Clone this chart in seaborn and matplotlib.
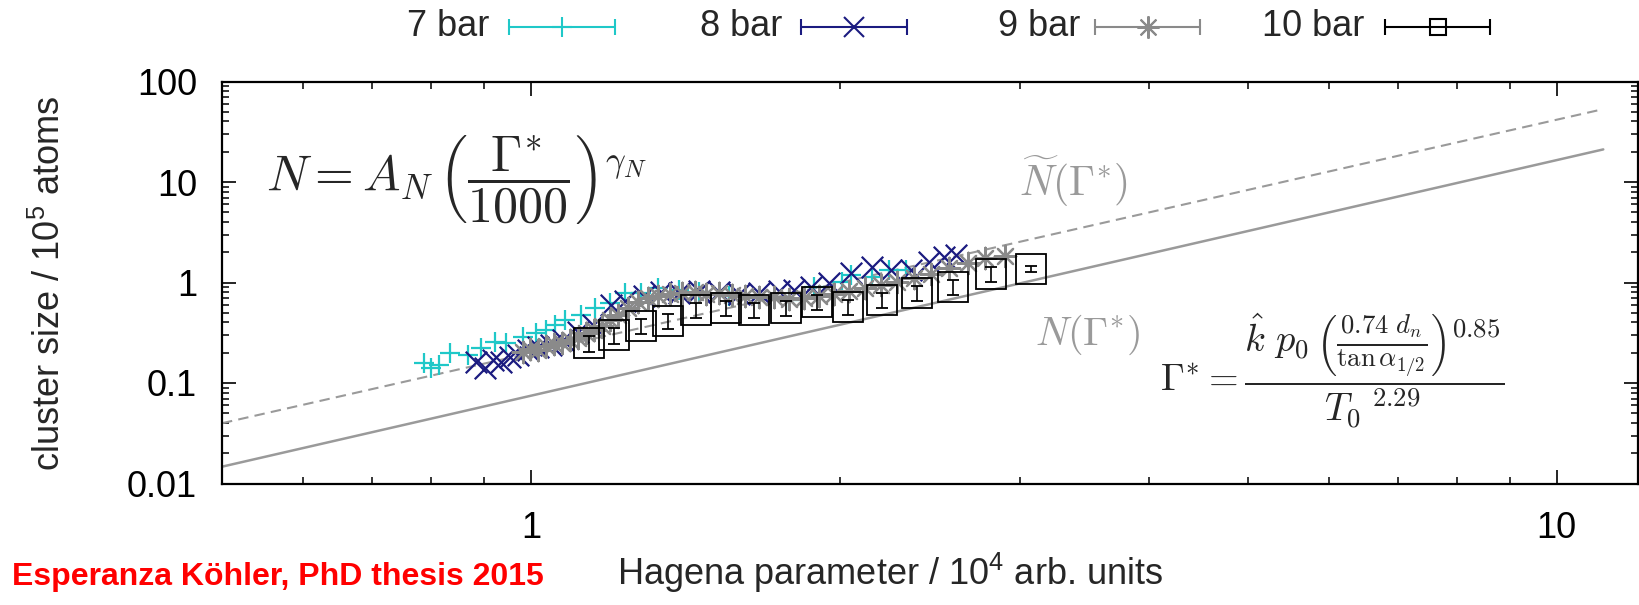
import matplotlib
matplotlib.use("Agg")
import matplotlib.pyplot as plt
from matplotlib.lines import Line2D
from matplotlib.ticker import FixedLocator, FixedFormatter, LogLocator, NullFormatter
import seaborn as sns

# --- data (Hagena parameter / 1e4, cluster size / 1e5) ---
x7 = [0.787, 0.800, 0.813, 0.835, 0.868, 0.894, 0.922, 0.945, 0.982, 1.011,
      1.034, 1.056, 1.080, 1.119, 1.155, 1.195, 1.236, 1.281, 1.331, 1.393,
      1.457, 1.559, 1.668, 1.784, 1.888, 2.011, 2.052, 2.151, 2.235, 2.323]
y7 = [0.157, 0.140, 0.152, 0.198, 0.191, 0.224, 0.257, 0.248, 0.290, 0.316,
      0.338, 0.380, 0.425, 0.480, 0.560, 0.620, 0.780, 0.780, 0.880, 0.845,
      0.807, 0.737, 0.700, 0.673, 0.906, 1.016, 1.19, 1.14, 1.34, 1.34]

x8 = [0.884, 0.902, 0.918, 0.935, 0.954, 0.971, 0.993, 1.016, 1.046, 1.075,
      1.112, 1.150, 1.198, 1.235, 1.290, 1.340, 1.393, 1.457, 1.524, 1.594,
      1.668, 1.745, 1.804, 1.875, 1.953, 2.052, 2.151, 2.245, 2.349, 2.446,
      2.530, 2.599]
y8 = [0.162, 0.141, 0.170, 0.162, 0.182, 0.191, 0.214, 0.229, 0.240, 0.269,
      0.323, 0.379, 0.600, 0.650, 0.730, 0.800, 0.790, 0.830, 0.800, 0.772,
      0.789, 0.827, 0.846, 0.906, 0.993, 1.249, 1.433, 1.34, 1.34, 1.608,
      1.803, 1.887]

x9 = [0.982, 0.998, 1.016, 1.034, 1.053, 1.072, 1.092, 1.112, 1.132, 1.152,
      1.173, 1.195, 1.216, 1.244, 1.273, 1.302, 1.331, 1.368, 1.405, 1.444,
      1.483, 1.524, 1.569, 1.616, 1.668, 1.725, 1.784, 1.846, 1.909, 1.975,
      2.043, 2.118, 2.195, 2.276, 2.365, 2.457, 2.559, 2.665, 2.769, 2.896]
y9 = [0.204, 0.219, 0.214, 0.234, 0.245, 0.251, 0.269, 0.281, 0.316, 0.338,
      0.370, 0.425, 0.476, 0.560, 0.643, 0.704, 0.737, 0.772, 0.789, 0.808,
      0.772, 0.789, 0.754, 0.737, 0.721, 0.721, 0.688, 0.704, 0.737, 0.772,
      0.827, 0.886, 0.948, 1.016, 1.114, 1.221, 1.401, 1.571, 1.762, 1.845]

x10 = [1.14, 1.206, 1.281, 1.362, 1.450, 1.548, 1.652, 1.772, 1.900, 2.04,
       2.20, 2.38, 2.58, 2.81, 3.07]
y10 = [0.25, 0.301, 0.37, 0.416, 0.535, 0.56, 0.535, 0.56, 0.643, 0.573,
       0.673, 0.789, 0.906, 1.22, 1.37]
err10 = [0.045, 0.055, 0.065, 0.075, 0.095, 0.10, 0.095, 0.10, 0.11, 0.10,
         0.12, 0.14, 0.16, 0.20, 0.10]

# fit lines (end points)
fit_x = [0.5, 11.1]
fit_ntilde = [0.0398, 53.1]
fit_n = [0.0147, 21.1]

y_ticks = [0.01, 0.1, 1, 10, 100]
y_labels = ["0.01", "0.1", "1", "10", "100"]
x_ticks = [1, 10]
x_labels = ["1", "10"]

ASTER = (8, 2, 0)  # gnuplot style '*' (plus and cross overlaid)
series = [
    ("7 bar", x7, y7, "#1fc8c8", "+", 220),
    ("8 bar", x8, y8, "#1b1b80", "x", 240),
    ("9 bar", x9, y9, "#8a8a8a", ASTER, 240),
]
c10 = "black"
fitc = "#9a9a9a"

sns.set_theme(style="ticks")
plt.rcParams["font.family"] = ["Liberation Sans", "DejaVu Sans"]
plt.rcParams["mathtext.fontset"] = "custom"
plt.rcParams["mathtext.rm"] = "Liberation Sans"
plt.rcParams["mathtext.it"] = "Liberation Sans:italic"

W, H = 1639, 605
fig = plt.figure(figsize=(W / 100, H / 100), dpi=100)
ax = fig.add_axes([222 / W, 1 - 483.5 / H, (1638 - 222) / W, (483.5 - 81.5) / H])

# fit curves
ax.plot(fit_x, fit_ntilde, color=fitc, lw=1.5, ls=(0, (5, 3)))
ax.plot(fit_x, fit_n, color=fitc, lw=1.8)

# measured series
for name, xs, ys, col, mk, sz in series:
    sns.scatterplot(x=xs, y=ys, marker=mk, color=col, s=sz, linewidth=1.6,
                    ax=ax, legend=False, zorder=3)
ax.errorbar(x10, y10, yerr=err10, fmt="s", ms=21, mfc="none", mec=c10, mew=1.3,
            ecolor=c10, elinewidth=1.2, capsize=4, capthick=1.2, zorder=4)

ax.set_xscale("log")
ax.set_yscale("log")
ax.set_xlim(0.5, 12)
ax.set_ylim(0.01, 100)

ax.yaxis.set_major_locator(FixedLocator(y_ticks))
ax.yaxis.set_major_formatter(FixedFormatter(y_labels))
ax.xaxis.set_major_locator(FixedLocator(x_ticks))
ax.xaxis.set_major_formatter(FixedFormatter(x_labels))
ax.xaxis.set_minor_locator(LogLocator(base=10, subs=range(2, 10)))
ax.yaxis.set_minor_locator(LogLocator(base=10, subs=range(2, 10)))
ax.xaxis.set_minor_formatter(NullFormatter())
ax.yaxis.set_minor_formatter(NullFormatter())

ax.tick_params(which="both", direction="in", top=True, right=True, color="black")
ax.tick_params(which="major", length=10, width=1.2, labelsize=26, colors="black")
ax.tick_params(axis="y", which="major", pad=18)
ax.tick_params(axis="x", which="major", pad=20)
ax.tick_params(which="minor", length=5, width=1.1)
for sp in ax.spines.values():
    sp.set_visible(True)
    sp.set_linewidth(1.6)
    sp.set_color("black")

ax.set_xlabel(r"Hagena parameter / 10$^{4}$ arb. units", fontsize=26, va="center")
ax.set_ylabel(r"cluster size / 10$^{5}$ atoms", fontsize=26, va="center")
ax.xaxis.set_label_coords((890 - 222) / 1416, (483.5 - 573) / 402)
ax.yaxis.set_label_coords((50 - 222) / 1416, (483.5 - 283) / 402)

# formulas and curve labels
fig.text(266 / W, 1 - 180 / H,
         r"$N = A_N\,\left(\dfrac{\Gamma^{*}}{1000}\right)^{\gamma_N}$",
         fontsize=36, math_fontfamily="cm", va="center", ha="left")
fig.text(1019 / W, 1 - 182 / H, r"$\widetilde{N}(\Gamma^{*})$",
         fontsize=30, math_fontfamily="cm", color=fitc, va="center", ha="left")
fig.text(1035 / W, 1 - 335 / H, r"$N(\Gamma^{*})$",
         fontsize=29, math_fontfamily="cm", color=fitc, va="center", ha="left")
fig.text(1160 / W, 1 - 371 / H,
         r"$\Gamma^{*} = \dfrac{\hat{k}\ p_0\,\left(\frac{0.74\ d_n}{\tan\alpha_{1/2}}\right)^{0.85}}{{T_0}^{\ 2.29}}$",
         fontsize=27.5, math_fontfamily="cm", va="center", ha="left")

fig.text(12.5 / W, 1 - 577 / H, "Esperanza Köhler, PhD thesis 2015",
         color="red", fontweight="bold", fontsize=23, va="center", ha="left")

# legend drawn by hand in gnuplot style
leg_y = 1 - 27 / H
leg = [("7 bar", 489, 509, 615, "#1fc8c8", "+", 14),
       ("8 bar", 782, 801, 907, "#1b1b80", "x", 14),
       ("9 bar", 1080, 1095, 1200, "#8a8a8a", ASTER, 16),
       ("10 bar", 1364, 1385, 1490, "black", "s", 11)]
for name, tx, x0, x1, col, mk, ms in leg:
    fig.text(tx / W, leg_y, name, fontsize=26, ha="right", va="center")
    fig.add_artist(Line2D([x0 / W, x1 / W], [leg_y, leg_y], color=col, lw=1.5))
    fig.add_artist(Line2D([x0 / W, x1 / W], [leg_y, leg_y], ls="none", marker="|",
                          ms=12, mew=1.5, color=col))
    fig.add_artist(Line2D([(x0 + x1) / 2 / W], [leg_y], ls="none", marker=mk, ms=ms,
                          mew=1.5, color=col, mfc="none"))

fig.savefig("out.png", dpi=100)
